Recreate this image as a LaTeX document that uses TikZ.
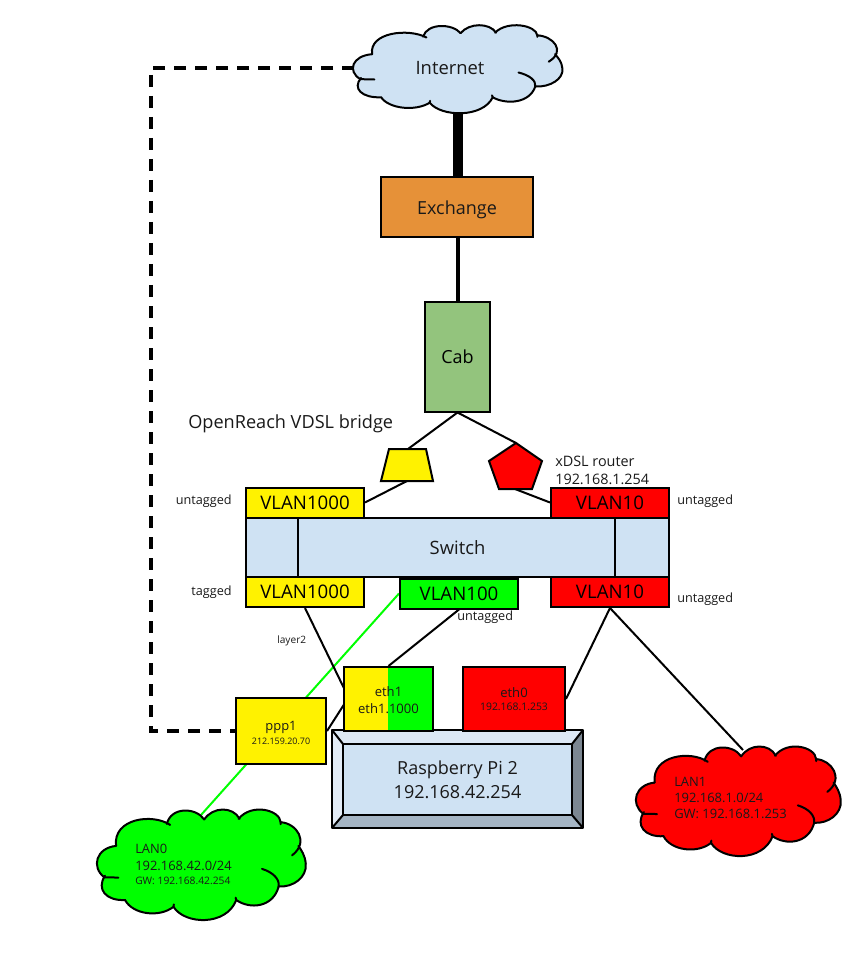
\documentclass[tikz,border=0pt]{standalone}
\usepackage{fontspec}
\setmainfont{Open Sans}
\usetikzlibrary{backgrounds}
\definecolor{swblue}{HTML}{CFE2F3}
\definecolor{exorange}{HTML}{E69138}
\definecolor{cabgreen}{HTML}{93C47D}
\definecolor{bevt}{HTML}{DCE8F5}
\definecolor{bevl}{HTML}{E3ECF7}
\definecolor{bevr}{HTML}{7C8792}
\definecolor{bevb}{HTML}{A5B5C4}
\tikzset{
  boxx/.style={draw=black,line width=1.5pt,inner sep=0pt},
  lbl/.style={inner sep=0pt,align=center,text=black!90},
  wire/.style={draw=black,line width=1.5pt},
  gwire/.style={draw=green,line width=1.5pt},
  dashwire/.style={draw=black,line width=2.6pt,dash pattern=on 9pt off 6.75pt},
  cloudline/.style={draw=black,line width=1.5pt,line cap=round},
}
\newcommand{\sz}[1]{\fontsize{#1}{#1}\selectfont}
% cloud in unit coordinates of a 627 x 334 box
\newcommand{\cloudfill}[1]{%
 \fill[#1] (60,112) .. controls (0,118) and (-15,175) .. (25,205)
  .. controls (0,240) and (30,275) .. (87,272)
  .. controls (110,315) and (190,325) .. (232,292)
  .. controls (265,345) and (390,350) .. (420,272)
  .. controls (460,300) and (530,295) .. (547,232)
  .. controls (590,235) and (632,205) .. (628,165)
  .. controls (626,140) and (615,125) .. (606,112)
  .. controls (625,85) and (600,45) .. (553,42)
  .. controls (550,5) and (465,-15) .. (427,32)
  .. controls (410,-5) and (350,-5) .. (324,34)
  .. controls (300,-2) and (225,-5) .. (212,47)
  .. controls (170,15) and (50,30) .. (60,112) -- cycle;}
\newcommand{\cloudstroke}{%
 \draw[cloudline] (60,112) .. controls (0,118) and (-15,175) .. (25,205) .. controls (35,205) and (50,205) .. (67,206);
 \draw[cloudline] (27,200) .. controls (0,240) and (30,275) .. (87,272) .. controls (110,315) and (190,325) .. (232,292) .. controls (265,345) and (390,350) .. (420,272);
 \draw[cloudline] (232,292) -- (233,285);
 \draw[cloudline] (420,272) -- (418,265) (420,272) .. controls (460,300) and (530,295) .. (547,232);
 \draw[cloudline] (497,180) .. controls (530,190) and (550,210) .. (547,232) .. controls (590,235) and (632,205) .. (628,165) .. controls (626,140) and (615,125) .. (606,112);
 \draw[cloudline] (553,48) -- (553,42) .. controls (600,45) and (640,100) .. (587,140);
 \draw[cloudline] (553,42) .. controls (550,5) and (465,-15) .. (427,32);
 \draw[cloudline] (430,32) .. controls (410,-5) and (350,-5) .. (324,34);
 \draw[cloudline] (324,34) .. controls (300,-2) and (225,-5) .. (212,47);
 \draw[cloudline] (222,50) .. controls (170,15) and (50,30) .. (60,112);}
\begin{document}
\begin{tikzpicture}[x=0.75pt,y=-0.75pt]
\useasboundingbox (0,0) rectangle (849,955);

% clouds
\begin{scope}[shift={(352,24)},x=0.2513pt,y=-0.2021pt]
 \cloudfill{swblue}\cloudstroke
\end{scope}
\begin{scope}[shift={(96,808)},x=0.2505pt,y=-0.2537pt]
 \cloudfill{green}\cloudstroke
\end{scope}
\begin{scope}[shift={(635,745)},x=0.2457pt,y=-0.2515pt]
 \cloudfill{red}\cloudstroke
\end{scope}
\node[lbl,font=\sz{13.8}] (inet) at (450,68) {Internet};
\node[lbl,anchor=west,align=left] (lan0) at (135,864) {\sz{9.7}LAN0\\[0.75pt]\sz{9.7}192.168.42.0/24\\[-1.5pt]\sz{7.7}GW: 192.168.42.254};
\node[lbl,anchor=west,align=left] (lan1) at (674,798) {\sz{9.7}LAN1\\\sz{9.7}192.168.1.0/24\\\sz{9.7}GW: 192.168.1.253};
\coordinate (inetS) at (458,113);
\coordinate (inetW) at (354,68);
\coordinate (lan0N) at (201,815);
\coordinate (lan1N) at (743,750);
\coordinate (dashNW) at (151,68);
\coordinate (dashSW) at (151,731);
\coordinate (elbow) at (348.5,697.5);

% boxes
\node[boxx,fill=exorange,minimum width=114pt,minimum height=45pt] (exch) at (457,207) {};
\node[lbl,font=\sz{13.5}] (exchlbl) at (457,209.5) {Exchange};
\node[boxx,fill=cabgreen,minimum width=48.75pt,minimum height=82.5pt,font=\sz{13.5}] (cab) at (457.5,356.5) {Cab};

\draw[boxx,fill=yellow] (389,449) -- (426,449) -- (433,481) -- (381,481) -- cycle;
\coordinate (trapN) at (408,449);
\coordinate (trapS) at (407,481);
\draw[boxx,fill=red] (516,443) -- (542,461) -- (532,489) -- (499,489) -- (489,461) -- cycle;
\coordinate (pentN) at (516,443);
\coordinate (pentS) at (515,489);

\node[boxx,fill=swblue,minimum width=317.25pt,minimum height=44.25pt] (sw) at (457.5,547.5) {};
\node[lbl,font=\sz{13.8}] (swlbl) at (457.5,548) {Switch};
\draw[wire] (298,518) -- (298,577) (615,518) -- (615,577);
\node[boxx,fill=yellow,minimum width=88.5pt,minimum height=22.5pt,font=\sz{14}] (v1kt) at (305,502.5) {VLAN1000};
\node[boxx,fill=red,minimum width=88.5pt,minimum height=22.5pt,font=\sz{14}] (v10t) at (610,502.5) {VLAN10};
\node[boxx,fill=yellow,minimum width=88.5pt,minimum height=22.5pt,font=\sz{14}] (v1kb) at (305,592) {VLAN1000};
\node[boxx,fill=green,minimum width=88.5pt,minimum height=22.5pt,font=\sz{14}] (v100) at (459,593.5) {VLAN100};
\node[boxx,fill=red,minimum width=88.5pt,minimum height=22.5pt,font=\sz{14}] (v10b) at (610,592) {VLAN10};

% Raspberry Pi bevel
\fill[bevt] (332,730) -- (583,730) -- (572,744) -- (343,744) -- cycle;
\fill[bevl] (332,730) -- (343,744) -- (343,815) -- (332,828) -- cycle;
\fill[bevr] (583,730) -- (583,828) -- (572,815) -- (572,744) -- cycle;
\fill[bevb] (332,828) -- (583,828) -- (572,815) -- (343,815) -- cycle;
\draw[wire,line join=round] (332,730) rectangle (583,828);
\draw[wire] (332,730) -- (343,744) (583,730) -- (572,744) (332,828) -- (343,815) (583,828) -- (572,815);
\node[boxx,fill=swblue,minimum width=171.75pt,minimum height=53.25pt] (pi) at (457.5,779.5) {};
\node[lbl] (pilbl) at (457.5,780) {\sz{13.5}Raspberry Pi 2\\[4.25pt]\sz{13.5}192.168.42.254};

\node[boxx,fill=yellow,minimum width=67.5pt,minimum height=49.5pt] (ppp) at (281,731) {};
\node[lbl] (ppplbl) at (281,733) {\sz{9.7}ppp1\\[-2pt]\sz{6.7}212.159.20.70};
\node[boxx,minimum width=66.75pt,minimum height=48pt] (eth1) at (388.5,699) {};
\fill[yellow] (345,667.5) rectangle (388,730.5);
\fill[green] (388,667.5) rectangle (432.5,730.5);
\draw[draw=black,line width=1.5pt] (344,667) rectangle (433,731);
\node[lbl] (eth1lbl) at (388.5,700) {\sz{9.8}eth1\\[0.75pt]\sz{9.8}eth1.1000};
\node[boxx,fill=red,minimum width=76.5pt,minimum height=48pt] (eth0) at (514,699) {};
\node[lbl] (eth0lbl) at (514,699) {\sz{9.8}eth0\\[-2pt]\sz{7.8}192.168.1.253};

% free labels
\node[lbl,anchor=west,font=\sz{13.6}] (vdsl) at (188,423.5) {OpenReach VDSL bridge};
\node[lbl,anchor=west,align=left,font=\sz{10.8}] (xdsl) at (555,470.5) {xDSL router\\[2.7pt]192.168.1.254};
\node[lbl,anchor=east,font=\sz{9.5}] (u1) at (232,501.5) {untagged};
\node[lbl,anchor=east,font=\sz{9.5}] (t1) at (232,592.5) {tagged};
\node[lbl,anchor=west,font=\sz{9.5}] (u2) at (677,501.5) {untagged};
\node[lbl,anchor=west,font=\sz{9.5}] (u3) at (677,599.5) {untagged};
\node[lbl,anchor=west,font=\sz{9.5}] (u4) at (457,617.5) {untagged};
\node[lbl,anchor=west,font=\sz{7.6}] (l2) at (277,640.5) {layer2};

% connectors
\begin{pgfonlayer}{background}
\draw[draw=black,line width=8.2pt] (inetS) -- (exch.north -| inetS);
\draw[draw=black,line width=3pt] (exch.south -| cab.north) -- (cab.north);
\draw[wire] (cab.south) -- (trapN);
\draw[wire] (cab.south) -- (pentN);
\draw[wire] (trapS) -- (v1kt.east);
\draw[wire] (pentS) -- (v10t.west);
\draw[gwire] (v100.west) -- (lan0N);
\draw[wire] (v100.south) -- (eth1.north);
\draw[wire,line join=round] (v1kb.south) -- (elbow) -- (ppp.east);
\draw[wire] (v10b.south) -- (eth0.east);
\draw[wire] (v10b.south) -- (lan1N);
\draw[dashwire] (inetW) -- (dashNW) -- (dashSW) -- (ppp.west);
\end{pgfonlayer}
\end{tikzpicture}
\end{document}
